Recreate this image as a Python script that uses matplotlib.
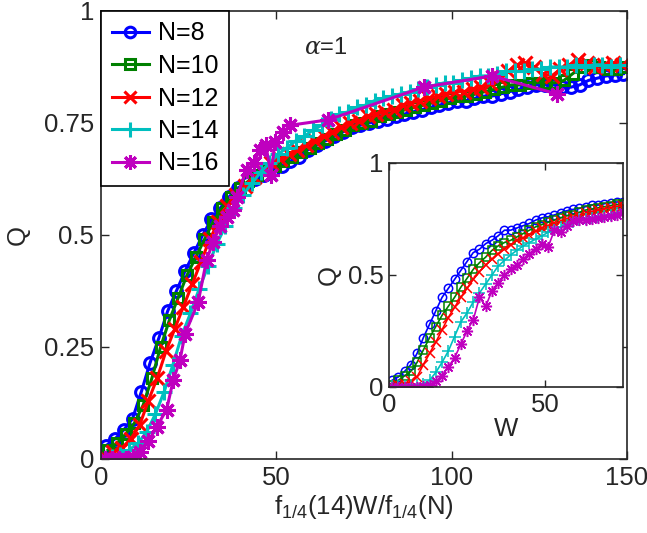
import numpy as np
import matplotlib
matplotlib.use("Agg")
import matplotlib.pyplot as plt

plt.rcParams['font.family'] = ['Liberation Sans', 'DejaVu Sans']
plt.rcParams['mathtext.fontset'] = 'custom'
plt.rcParams['mathtext.rm'] = 'Liberation Sans'
plt.rcParams['mathtext.it'] = 'DejaVu Serif:italic'

# ---------------- main panel data ----------------
labels = ['N=8', 'N=10', 'N=12', 'N=14', 'N=16']
colors = ['#0000ff', '#008000', '#ff0000', '#00bfbf', '#bf00bf']
markers = ['o', 's', 'x', '+', (8, 2, 0)]

x8 = np.arange(1.5, 150, 2.5)
q8 = [0.03, 0.045, 0.065, 0.09, 0.15, 0.215, 0.27, 0.33, 0.375, 0.42,
      0.46, 0.50, 0.535, 0.56, 0.585, 0.605, 0.615, 0.625, 0.635, 0.645,
      0.655, 0.665, 0.675, 0.69, 0.70, 0.71, 0.72, 0.73, 0.74, 0.745,
      0.75, 0.755, 0.76, 0.765, 0.77, 0.775, 0.78, 0.785, 0.79, 0.795,
      0.80, 0.80, 0.805, 0.81, 0.81, 0.815, 0.82, 0.825, 0.83, 0.835,
      0.835, 0.835, 0.83, 0.83, 0.835, 0.845, 0.85, 0.855, 0.857, 0.86]

x10 = np.arange(2.0, 150, 2.5)
q10 = [0.02, 0.035, 0.055, 0.08, 0.12, 0.18, 0.25, 0.31, 0.36, 0.41,
       0.45, 0.49, 0.53, 0.56, 0.585, 0.605, 0.62, 0.635, 0.645, 0.655,
       0.665, 0.675, 0.685, 0.695, 0.705, 0.715, 0.725, 0.735, 0.745, 0.75,
       0.755, 0.765, 0.77, 0.775, 0.78, 0.785, 0.79, 0.795, 0.80, 0.805,
       0.81, 0.81, 0.815, 0.82, 0.825, 0.83, 0.835, 0.835, 0.84, 0.84,
       0.84, 0.84, 0.845, 0.86, 0.875, 0.88, 0.875, 0.87, 0.87, 0.875]

x12 = np.arange(1.0, 150, 2.5)
q12 = [0.005, 0.015, 0.025, 0.045, 0.075, 0.13, 0.18, 0.24, 0.29, 0.34,
       0.39, 0.44, 0.49, 0.53, 0.565, 0.59, 0.61, 0.63, 0.645, 0.66,
       0.67, 0.68, 0.69, 0.70, 0.71, 0.72, 0.73, 0.74, 0.75, 0.755,
       0.765, 0.77, 0.775, 0.78, 0.79, 0.795, 0.80, 0.805, 0.81, 0.815,
       0.82, 0.82, 0.825, 0.83, 0.84, 0.85, 0.865, 0.88, 0.885, 0.875,
       0.86, 0.855, 0.87, 0.88, 0.89, 0.885, 0.875, 0.88, 0.885, 0.88]

x14 = np.arange(3.0, 150, 2.5)
q14 = [0.005, 0.01, 0.02, 0.035, 0.06, 0.10, 0.15, 0.21, 0.275, 0.325,
       0.38, 0.43, 0.48, 0.52, 0.56, 0.59, 0.615, 0.64, 0.66, 0.68,
       0.695, 0.71, 0.72, 0.735, 0.745, 0.76, 0.77, 0.775, 0.785, 0.79,
       0.80, 0.805, 0.81, 0.815, 0.82, 0.825, 0.83, 0.835, 0.84, 0.84,
       0.845, 0.85, 0.855, 0.855, 0.86, 0.865, 0.865, 0.865, 0.87, 0.87,
       0.875, 0.875, 0.875, 0.88, 0.875, 0.88, 0.88, 0.875, 0.88]

x16 = [1, 3, 5, 7, 9, 11, 13.5, 15.9, 18.7, 20.6, 22.5, 24, 27.7, 30.1, 32,
       34, 36, 37.7, 38.7, 41.5, 43.5, 45.3, 47, 48.5, 49.6, 52, 54, 64.7,
       92, 111.5, 130]
q16 = [0.0, 0.0, 0.0, 0.0, 0.005, 0.015, 0.04, 0.072, 0.11, 0.176, 0.22,
       0.28, 0.35, 0.444, 0.485, 0.52, 0.54, 0.556, 0.585, 0.645, 0.66,
       0.69, 0.70, 0.635, 0.708, 0.73, 0.745, 0.757, 0.83, 0.855, 0.815]

main_x = [x8, x10, x12, x14, x16]
main_q = [q8, q10, q12, q14, q16]

# ---------------- inset data ----------------
W = np.arange(1, 76, 2)
iq8 = [0.03, 0.045, 0.07, 0.10, 0.15, 0.22, 0.28, 0.34, 0.40, 0.44,
       0.48, 0.52, 0.56, 0.60, 0.615, 0.64, 0.655, 0.675, 0.70, 0.70,
       0.71, 0.72, 0.73, 0.745, 0.755, 0.76, 0.768, 0.778, 0.787, 0.793,
       0.797, 0.805, 0.813, 0.812, 0.818, 0.822, 0.826, 0.826]
iq10 = [0.01, 0.03, 0.05, 0.07, 0.11, 0.165, 0.22, 0.27, 0.32, 0.36,
        0.40, 0.445, 0.485, 0.525, 0.555, 0.58, 0.61, 0.63, 0.645, 0.655,
        0.67, 0.685, 0.70, 0.715, 0.725, 0.735, 0.745, 0.755, 0.765, 0.77,
        0.78, 0.79, 0.795, 0.80, 0.805, 0.81, 0.815, 0.815]
iq12 = [0.005, 0.01, 0.015, 0.025, 0.045, 0.10, 0.15, 0.20, 0.255, 0.31,
        0.355, 0.40, 0.44, 0.48, 0.515, 0.545, 0.57, 0.595, 0.615, 0.635,
        0.655, 0.665, 0.68, 0.695, 0.71, 0.72, 0.73, 0.74, 0.75, 0.76,
        0.765, 0.775, 0.78, 0.79, 0.795, 0.80, 0.805, 0.81]
iq14 = [0.005, 0.005, 0.005, 0.01, 0.01, 0.015, 0.03, 0.065, 0.11, 0.16,
        0.225, 0.29, 0.33, 0.38, 0.42, 0.46, 0.50, 0.54, 0.565, 0.59,
        0.61, 0.63, 0.645, 0.66, 0.675, 0.69, 0.70, 0.715, 0.725, 0.735,
        0.745, 0.75, 0.755, 0.76, 0.765, 0.77, 0.775, 0.78]
iq16 = [0.0, 0.0, 0.0, 0.0, 0.0, 0.005, 0.01, 0.025, 0.05, 0.09,
        0.13, 0.19, 0.25, 0.30, 0.40, 0.36, 0.43, 0.465, 0.50, 0.525,
        0.545, 0.57, 0.595, 0.615, 0.64, 0.625, 0.70, 0.69, 0.72, 0.74,
        0.745, 0.745, 0.75, 0.755, 0.76, 0.765, 0.77, 0.78]
inset_q = [iq8, iq10, iq12, iq14, iq16]

main_xticks = [0, 50, 100, 150]
main_yticks = [0, 0.25, 0.5, 0.75, 1]
main_yticklabels = ['0', '0.25', '0.5', '0.75', '1']

DARK = '#262626'
FS = 18.5

main_msize = [8.5, 7.5, 9.5, 12, 12]
inset_msize = [6, 5.5, 6.5, 8, 8]

fig = plt.figure(figsize=(6.47, 5.33), dpi=100)
ax = fig.add_axes([101/647, 1 - 459/533, 526/647, 448/533])

for x, q, c, m, lab, ms in zip(main_x, main_q, colors, markers, labels, main_msize):
    filled = m in ('o', 's')
    ax.plot(x, q, color=c, marker=m, linewidth=2.2, markersize=ms,
            markeredgewidth=2.2, markerfacecolor='none' if filled else c,
            label=lab)

ax.set_xlim(0, 150)
ax.set_ylim(0, 1)
ax.set_xticks(main_xticks)
ax.set_yticks(main_yticks)
ax.set_yticklabels(main_yticklabels)
ax.tick_params(direction='in', length=6, width=1, top=True, right=True,
               labelsize=FS, colors=DARK, pad=5)
for s in ax.spines.values():
    s.set_color(DARK)
    s.set_linewidth(1.2)
ax.set_xlabel(r'f$_{\mathrm{1/4}}$(14)W/f$_{\mathrm{1/4}}$(N)', fontsize=FS, color=DARK, labelpad=2)
ax.set_ylabel('Q', fontsize=FS, color=DARK, labelpad=10)
ax.text(58, 0.917, r'$\alpha$=1', fontsize=17, color=DARK, va='center', ha='left')

leg = ax.legend(loc='upper left', bbox_to_anchor=(0, 1), fontsize=18, frameon=True,
                fancybox=False, edgecolor='black', framealpha=1, borderaxespad=0,
                handlelength=1.5, handletextpad=0.35, labelspacing=0.34,
                borderpad=0.42, markerscale=0.9)
leg.get_frame().set_linewidth(1.2)

# ---------------- inset ----------------
ins = fig.add_axes([389/647, 1 - 387/533, 234/647, 224/533])
for q, c, m, ms in zip(inset_q, colors, markers, inset_msize):
    filled = m in ('o', 's')
    ins.plot(W, q, color=c, marker=m, linewidth=1.2, markersize=ms,
             markeredgewidth=1.1, markerfacecolor='none' if filled else c)
ins.set_xlim(0, 75)
ins.set_ylim(0, 1)
ins.set_xticks([0, 50])
ins.set_yticks([0, 0.5, 1])
ins.set_yticklabels(['0', '0.5', '1'])
ins.tick_params(direction='in', length=5, width=1, top=True, right=True,
                labelsize=FS, colors=DARK, pad=4)
for s in ins.spines.values():
    s.set_color(DARK)
    s.set_linewidth(1.2)
ins.set_xlabel('W', fontsize=FS, color=DARK, labelpad=0)
ins.set_ylabel('Q', fontsize=FS, color=DARK, labelpad=5)

fig.savefig('out.png', dpi=100)
